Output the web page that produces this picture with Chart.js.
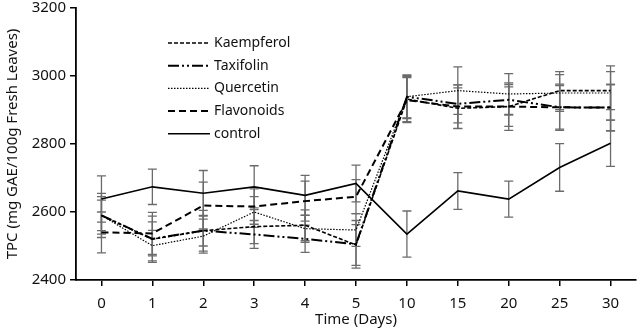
<!DOCTYPE html>
<html>
<head>
<meta charset="utf-8">
<script src="https://cdn.jsdelivr.net/npm/chart.js@4.4.1/dist/chart.umd.min.js"></script>
<style>
  html, body { margin: 0; padding: 0; background: #fff; }
  #wrap { width: 638px; height: 333px; }
</style>
</head>
<body>
<div id="wrap"><canvas id="tpcChart"></canvas></div>
<script>
const days = ['0', '1', '2', '3', '4', '5', '10', '15', '20', '25', '30'];
const yTicks = [2400, 2600, 2800, 3000, 3200];

const kaempferol = [2590, 2520, 2545, 2557, 2561, 2503, 2932, 2905, 2910, 2957, 2957];
const taxifolin  = [2590, 2521, 2545, 2534, 2521, 2505, 2939, 2918, 2930, 2908, 2907];
const quercetin  = [2590, 2501, 2529, 2600, 2551, 2547, 2939, 2957, 2947, 2950, 2950];
const flavonoids = [2540, 2537, 2619, 2616, 2632, 2645, 2929, 2910, 2910, 2908, 2907];
const control    = [2638, 2674, 2655, 2674, 2649, 2684, 2535, 2662, 2638, 2731, 2802];

// +/- error for each point
const kaempferolErr = [65, 68, 60, 50, 45, 60, 66, 60, 58, 56, 56];
const taxifolinErr  = [45, 50, 45, 41, 40, 70, 64, 56, 45, 68, 68];
const quercetinErr  = [55, 45, 50, 45, 40, 48, 62, 70, 60, 54, 80];
const flavonoidsErr = [60, 62, 69, 52, 59, 50, 66, 64, 70, 64, 68];
const controlErr    = [68, 52, 67, 62, 59, 54, 68, 54, 53, 70, 68];

const errorBars = {
    id: 'errorBars',
    beforeDatasetsDraw(chart) {
        const ctx = chart.ctx;
        const xs = chart.scales.x, ys = chart.scales.y;
        ctx.save();
        ctx.strokeStyle = '#6b6b6b';
        ctx.lineWidth = 1.3;
        chart.data.datasets.forEach(ds => {
            ds.data.forEach((v, j) => {
                const e = ds.errors[j];
                const x = xs.getPixelForValue(j);
                const y1 = ys.getPixelForValue(v + e);
                const y2 = ys.getPixelForValue(v - e);
                ctx.beginPath();
                ctx.moveTo(x, y1); ctx.lineTo(x, y2);
                ctx.moveTo(x - 4.5, y1); ctx.lineTo(x + 4.5, y1);
                ctx.moveTo(x - 4.5, y2); ctx.lineTo(x + 4.5, y2);
                ctx.stroke();
            });
        });
        ctx.restore();
    }
};

const insideLegend = {
    id: 'insideLegend',
    afterDraw(chart) {
        const ctx = chart.ctx;
        const left = chart.chartArea.left + 92;
        let y = chart.chartArea.top + 35;
        ctx.save();
        ctx.font = '14px "Noto Sans", sans-serif';
        ctx.fillStyle = '#111';
        ctx.textBaseline = 'middle';
        chart.data.datasets.forEach(ds => {
            ctx.beginPath();
            ctx.strokeStyle = '#000';
            ctx.lineWidth = ds.borderWidth;
            ctx.setLineDash(ds.borderDash || []);
            ctx.moveTo(left, y);
            ctx.lineTo(left + 42, y);
            ctx.stroke();
            ctx.setLineDash([]);
            ctx.fillText(ds.label, left + 46, y);
            y += 22.7;
        });
        ctx.restore();
    }
};

function line(label, data, errors, dash, width) {
    return {
        label, data, errors,
        borderColor: '#000',
        backgroundColor: '#000',
        borderWidth: width,
        borderDash: dash,
        pointRadius: 0,
        tension: 0,
        fill: false
    };
}

new Chart(document.getElementById('tpcChart'), {
    type: 'line',
    data: {
        labels: days,
        datasets: [
            line('Kaempferol', kaempferol, kaempferolErr, [4, 2], 1.6),
            line('Taxifolin', taxifolin, taxifolinErr, [11, 3, 2, 3, 2, 3], 2),
            line('Quercetin', quercetin, quercetinErr, [1.5, 1.5], 1.2),
            line('Flavonoids', flavonoids, flavonoidsErr, [7, 4], 2),
            line('control', control, controlErr, [], 1.6)
        ]
    },
    options: {
        responsive: true,
        maintainAspectRatio: false,
        animation: false,
        layout: { padding: { top: 0, right: 2, left: 0, bottom: 0 } },
        plugins: { legend: { display: false }, tooltip: { enabled: false } },
        scales: {
            x: {
                type: 'category',
                offset: true,
                grid: { drawOnChartArea: false, offset: false, color: '#000', tickLength: 6, lineWidth: 1.5 },
                border: { color: '#000', width: 1.8 },
                ticks: { color: '#111', font: { family: '"Noto Sans", sans-serif', size: 15 }, padding: 9 },
                title: { display: true, text: 'Time (Days)', color: '#111', font: { family: '"Noto Sans", sans-serif', size: 15 }, padding: { top: 0 } },
                afterFit(s) { s.height = 53; }
            },
            y: {
                min: 2400,
                max: 3200,
                afterBuildTicks(s) { s.ticks = yTicks.map(v => ({ value: v })); },
                grid: { drawOnChartArea: false, color: '#000', tickLength: 6, lineWidth: 1.5 },
                border: { color: '#000', width: 1.8 },
                ticks: { color: '#111', font: { family: '"Noto Sans", sans-serif', size: 15 }, padding: 4, callback: v => String(v) },
                title: { display: true, text: 'TPC (mg GAE/100g Fresh Leaves)', color: '#111', font: { family: '"Noto Sans", sans-serif', size: 15 }, padding: { bottom: 0 } },
                afterFit(s) { s.width = 76; s.paddingTop = 8; }
            }
        }
    },
    plugins: [errorBars, insideLegend]
});
</script>
</body>
</html>
